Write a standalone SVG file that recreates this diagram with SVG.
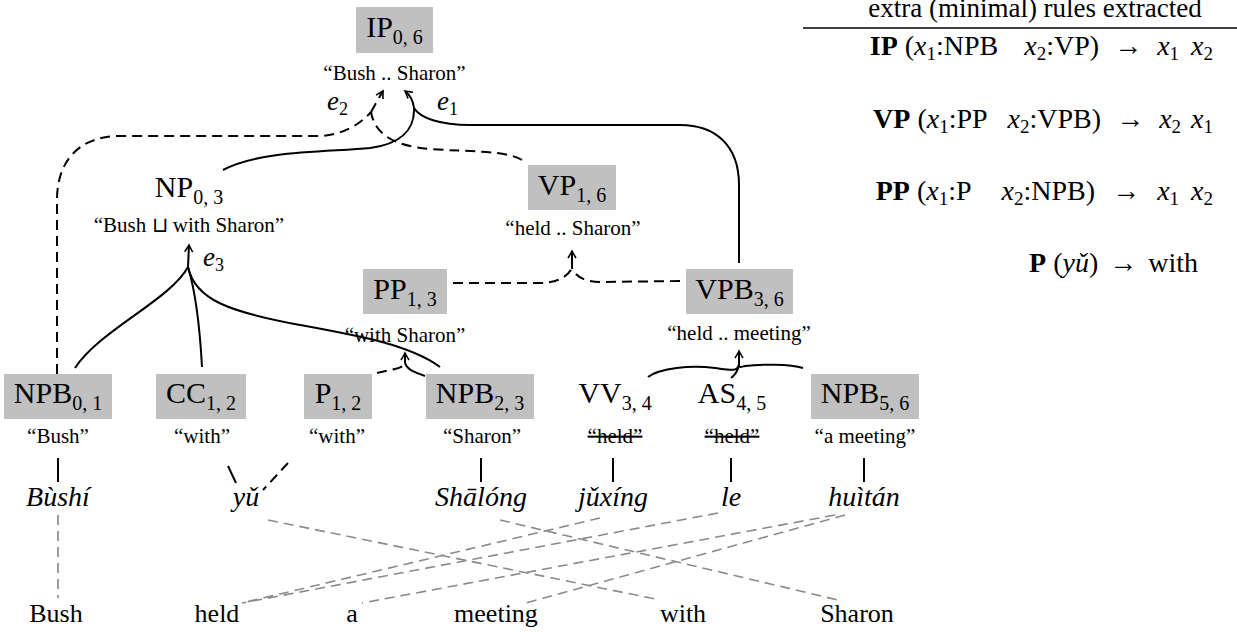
<svg xmlns="http://www.w3.org/2000/svg" width="1237" height="632" viewBox="0 0 1237 632">
<defs>
<style>
text{font-family:"Liberation Serif","Times New Roman",serif;fill:#000}
.box{fill:#c0c0c0}
.nl{font-size:30px;text-anchor:middle}
.sb{font-size:20px}
.lb{font-size:21px;text-anchor:middle}
.st{text-decoration:line-through}
.py{font-size:28px;font-style:italic;text-anchor:middle}
.en{font-size:26px;text-anchor:middle}
.rl{font-size:28px;text-anchor:end}
.rs{font-size:19px}
.i{font-style:italic}
.b{font-weight:bold}
.e{font-size:27px;font-style:italic}
.es{font-size:18px;font-style:normal}
.c{fill:none;stroke:#000;stroke-width:2}
.d{stroke-dasharray:10 6}
.g{fill:none;stroke:#8a8a8a;stroke-width:1.6;stroke-dasharray:10 6}
</style>
<marker id="ar" viewBox="-8 -5 10 10" markerWidth="10" markerHeight="10" refX="0" refY="0" orient="auto" markerUnits="userSpaceOnUse">
<path d="M-7,-4 Q-2,-1 0,0 Q-2,1 -7,4" fill="none" stroke="#000" stroke-width="1.6"/>
</marker>
</defs>
<rect width="1237" height="632" fill="#fff"/>

<g id="connectors">
  <!-- e2 (dashed) -->
  <path class="c d" d="M57,374 L57,200 C57,160 80,136 120,136 L318,136 C340,136 360,125 371,112"/>
  <path class="c d" d="M522,160 C505,150 470,152 430,149 C395,146 375,135 371,112"/>
  <path class="c d" d="M371,112 L383,91" marker-end="url(#ar)"/>
  <!-- e1 (solid) -->
  <path class="c" d="M223,170 C260,150 330,152 370,148 C400,144 415,130 414,108"/>
  <path class="c" d="M739,263 L739,185 C739,145 715,125 680,125 L470,125 C440,125 420,118 414,108"/>
  <path class="c" d="M414,108 C413,100 410,95 405,91" marker-end="url(#ar)"/>
  <!-- e3 -->
  <path class="c" d="M75,368 C100,330 170,300 188,267"/>
  <path class="c" d="M202,367 C200,330 195,290 188,267"/>
  <path class="c" d="M188,267 C195,300 230,312 300,325 C360,336 410,345 440,367"/>
  <path class="c" d="M188,267 L189,245" marker-end="url(#ar)"/>
  <!-- VP hyperedge (dashed) -->
  <path class="c d" d="M453,283 L540,283 C555,283 567,278 572,268"/>
  <path class="c d" d="M680,281 L600,282 C587,282 576,278 572,268"/>
  <path class="c" d="M572,268 L572,251" marker-end="url(#ar)"/>
  <!-- PP hyperedge -->
  <path class="c d" d="M377,373 L395,369 C400,368 404,366 405,363"/>
  <path class="c" d="M425,376 C415,372 407,370 405,363"/>
  <path class="c" d="M405,363 L405,353" marker-end="url(#ar)"/>
  <!-- VPB hyperedge -->
  <path class="c" d="M648,377 C660,368 690,365 715,368 C730,370 737,372 739,365"/>
  <path class="c" d="M803,368 C790,364 760,364 745,366 C741,367 739,368 739,365"/>
  <path class="c" d="M731,378 C735,375 738,370 739,365"/>
  <path class="c" d="M739,365 L739,351" marker-end="url(#ar)"/>
  <!-- terminal links -->
  <path class="c" d="M58,458 L58,482 M481,458 L481,482 M613,458 L613,482 M731,458 L731,482 M864,458 L864,482 M228,466 L236,483"/>
  <path class="c d" d="M288,463 L263,490"/>
  <!-- word alignments -->
  <path class="g" d="M58,515 L58,598"/>
  <path class="g" d="M268,520 L660,600"/>
  <path class="g" d="M500,520 L838,600"/>
  <path class="g" d="M600,518 L242,603"/>
  <path class="g" d="M718,513 L242,603"/>
  <path class="g" d="M835,515 L362,603"/>
  <path class="g" d="M845,515 L522,604"/>
</g>

<g id="IP"><rect class="box" x="356" y="7" width="77" height="46"/><text class="nl" x="394.5" y="37">IP<tspan class="sb" dy="7">0, 6</tspan></text><text class="lb" x="394.5" y="80">“Bush .. Sharon”</text></g>
<g id="NP"><text class="nl" x="189" y="197">NP<tspan class="sb" dy="7">0, 3</tspan></text><text class="lb" x="189" y="232">“Bush ⊔ with Sharon”</text></g>
<g id="VP"><rect class="box" x="528" y="165" width="88" height="45"/><text class="nl" x="572" y="195">VP<tspan class="sb" dy="7">1, 6</tspan></text><text class="lb" x="573" y="235">“held .. Sharon”</text></g>
<g id="PP"><rect class="box" x="363" y="269" width="84" height="45"/><text class="nl" x="405" y="299">PP<tspan class="sb" dy="7">1, 3</tspan></text><text class="lb" x="405" y="342">“with Sharon”</text></g>
<g id="VPB"><rect class="box" x="686" y="269" width="107" height="45"/><text class="nl" x="739.5" y="299">VPB<tspan class="sb" dy="7">3, 6</tspan></text><text class="lb" x="739" y="340">“held .. meeting”</text></g>
<g id="NPB01"><rect class="box" x="4" y="374" width="108" height="45"/><text class="nl" x="58" y="403">NPB<tspan class="sb" dy="7">0, 1</tspan></text><text class="lb" x="58" y="443">“Bush”</text></g>
<g id="CC"><rect class="box" x="156" y="374" width="90" height="45"/><text class="nl" x="201" y="403">CC<tspan class="sb" dy="7">1, 2</tspan></text><text class="lb" x="202" y="443">“with”</text></g>
<g id="P"><rect class="box" x="304" y="374" width="68" height="45"/><text class="nl" x="338" y="403">P<tspan class="sb" dy="7">1, 2</tspan></text><text class="lb" x="337" y="443">“with”</text></g>
<g id="NPB23"><rect class="box" x="426" y="374" width="108" height="45"/><text class="nl" x="480" y="403">NPB<tspan class="sb" dy="7">2, 3</tspan></text><text class="lb" x="482" y="443">“Sharon”</text></g>
<g id="VV"><text class="nl" x="615" y="403">VV<tspan class="sb" dy="7">3, 4</tspan></text><text class="lb st" x="615" y="443">“held”</text></g>
<g id="AS"><text class="nl" x="732" y="403">AS<tspan class="sb" dy="7">4, 5</tspan></text><text class="lb st" x="732" y="443">“held”</text></g>
<g id="NPB56"><rect class="box" x="811" y="374" width="108" height="45"/><text class="nl" x="865" y="403">NPB<tspan class="sb" dy="7">5, 6</tspan></text><text class="lb" x="865" y="443">“a meeting”</text></g>

<g id="edge-labels">
  <text class="e" x="327" y="110">e<tspan class="es" dy="5">2</tspan></text>
  <text class="e" x="437" y="110">e<tspan class="es" dy="5">1</tspan></text>
  <text class="e" x="203" y="266">e<tspan class="es" dy="5">3</tspan></text>
</g>

<g id="pinyin">
  <text class="py" x="58" y="506">Bùshí</text>
  <text class="py" x="246" y="506">yǔ</text>
  <text class="py" x="481" y="506">Shālóng</text>
  <text class="py" x="613" y="506">jǔxíng</text>
  <text class="py" x="731" y="506">le</text>
  <text class="py" x="864" y="506">huìtán</text>
</g>
<g id="english">
  <text class="en" x="56" y="622">Bush</text>
  <text class="en" x="217" y="622">held</text>
  <text class="en" x="352" y="622">a</text>
  <text class="en" x="496" y="622">meeting</text>
  <text class="en" x="683" y="622">with</text>
  <text class="en" x="857" y="622">Sharon</text>
</g>

<g id="rules">
  <text x="1035" y="17" style="font-size:27px;text-anchor:middle">extra (minimal) rules extracted</text>
  <line x1="803" y1="28" x2="1237" y2="28" stroke="#000" stroke-width="1.5"/>
  <text class="rl" x="1213" y="55"><tspan class="b">IP</tspan> (<tspan class="i">x</tspan><tspan class="rs" dy="5">1</tspan><tspan dy="-5">:NPB</tspan><tspan class="i" dx="26">x</tspan><tspan class="rs" dy="5">2</tspan><tspan dy="-5">:VP)</tspan><tspan dx="8"> → </tspan><tspan class="i" dx="8">x</tspan><tspan class="rs" dy="5">1</tspan><tspan class="i" dy="-5" dx="12">x</tspan><tspan class="rs" dy="5">2</tspan></text>
  <text class="rl" x="1213" y="128"><tspan class="b">VP</tspan> (<tspan class="i">x</tspan><tspan class="rs" dy="5">1</tspan><tspan dy="-5">:PP</tspan><tspan class="i" dx="20">x</tspan><tspan class="rs" dy="5">2</tspan><tspan dy="-5">:VPB)</tspan><tspan dx="8"> → </tspan><tspan class="i" dx="8">x</tspan><tspan class="rs" dy="5">2</tspan><tspan class="i" dy="-5" dx="10">x</tspan><tspan class="rs" dy="5">1</tspan></text>
  <text class="rl" x="1213" y="200"><tspan class="b">PP</tspan> (<tspan class="i">x</tspan><tspan class="rs" dy="5">1</tspan><tspan dy="-5">:P</tspan><tspan class="i" dx="30">x</tspan><tspan class="rs" dy="5">2</tspan><tspan dy="-5">:NPB)</tspan><tspan dx="10"> → </tspan><tspan class="i" dx="10">x</tspan><tspan class="rs" dy="5">1</tspan><tspan class="i" dy="-5" dx="12">x</tspan><tspan class="rs" dy="5">2</tspan></text>
  <text class="rl" x="1198" y="272"><tspan class="b">P</tspan> (<tspan class="i">yǔ</tspan>)<tspan dx="4"> → </tspan><tspan dx="4">with</tspan></text>
</g>
</svg>
